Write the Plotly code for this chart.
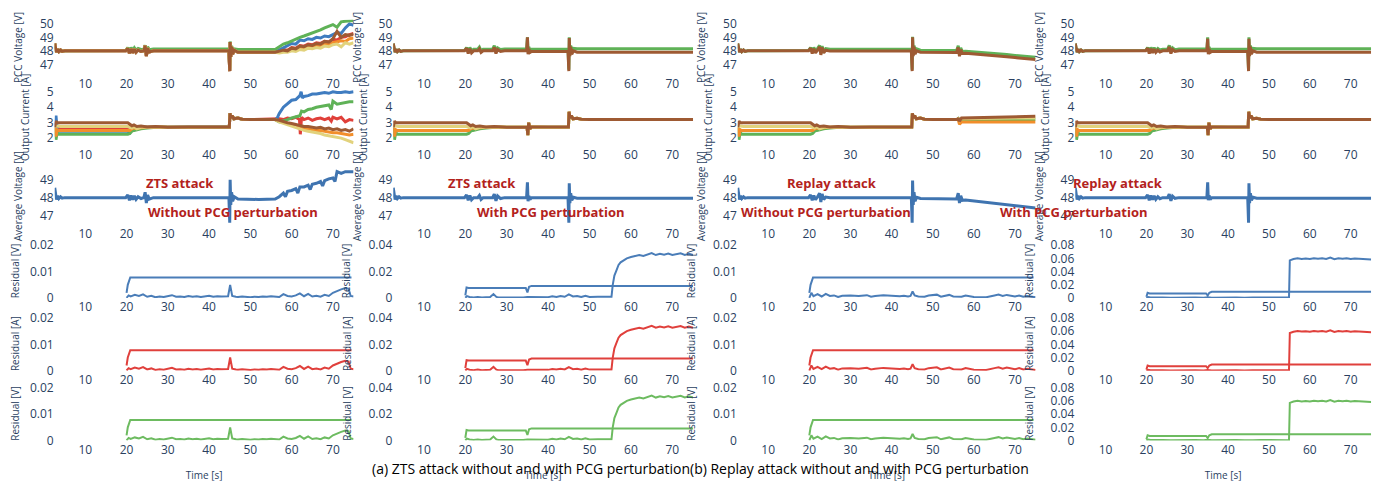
import plotly.graph_objects as go
from plotly.subplots import make_subplots

W, H = 1381, 491

CLR_V = ['#E0403A', '#3F7CC0', '#5FB257', '#F28E2B', '#E2D27C', '#9E5A33']
CLR_AVG = '#3F74B0'
CLR_RES = ['#4A7DB8', '#E0403C', '#6DBB60']

IT3_INIT = [(2.6,2.7),(2.9,1.9),(3.2,2.4),(3.5,2.25),(4.0,2.25),(20.3,2.25),(20.8,2.3),(21.3,2.45),(21.8,2.5),(22.5,2.55),(23.5,2.6),(25.0,2.65),(27.0,2.7),(28.0,2.72)]
IT4_INIT = [(2.6,2.7),(2.9,2.1),(3.2,2.55),(3.5,2.5),(4.0,2.5),(20.3,2.5),(20.8,2.5),(21.3,2.6),(21.8,2.65),(22.5,2.62),(23.5,2.68),(25.0,2.7),(27.0,2.72),(28.0,2.72)]
IT5_INIT = [(2.6,2.7),(2.9,2.8),(3.2,2.78),(3.5,2.75),(4.0,2.75),(20.3,2.75),(20.8,2.7),(21.3,2.65),(21.8,2.75),(22.5,2.6),(23.5,2.7),(25.0,2.72),(27.0,2.72),(28.0,2.72)]
IT6_INIT = [(2.6,2.7),(2.9,3.1),(3.2,3.0),(3.5,3.0),(4.0,3.0),(20.3,3.0),(20.8,2.9),(21.3,2.8),(21.8,2.85),(22.5,2.75),(23.5,2.78),(25.0,2.72),(27.0,2.75),(28.0,2.72)]
IT1_INIT = [(2.6,2.7),(2.9,3.0),(3.2,2.7),(3.5,2.62),(4.0,2.65),(20.3,2.65),(20.8,2.75),(21.3,2.8),(21.8,2.7),(22.5,2.75),(23.5,2.7),(25.0,2.72),(27.0,2.7),(28.0,2.72)]
IT2_INIT = [(2.6,2.7),(2.9,3.45),(3.2,2.5),(3.5,2.45),(4.0,2.45),(20.3,2.45),(20.8,2.35),(21.3,2.6),(21.8,2.7),(22.5,2.68),(23.5,2.72),(25.0,2.7),(27.0,2.72),(28.0,2.72)]
I_MID = [(30,2.7),(35,2.72),(40,2.7),(44.9,2.72),(45.05,3.6),(45.3,3.3),(45.6,3.45),(46.0,3.25),(47.0,3.3),(48.0,3.22),(50.0,3.2),(53.0,3.22),(56.0,3.2)]
I_MID_35 = [(30,2.7),(34.9,2.72),(35.1,2.2),(35.3,3.0),(35.6,2.6),(36.0,2.72),(40,2.7),(44.9,2.72),(45.05,3.7),(45.3,3.3),(45.6,3.45),(46.0,3.25),(47.0,3.28),(48.0,3.22),(50,3.2),(56,3.2),(60,3.22),(65,3.2),(70,3.22),(75,3.2)]

A_V_COMMON = [(2.6,48.55),(2.8,48.2),(3.0,47.9),(3.3,48.12),(3.6,47.95),(4.0,48.06),(4.4,47.96),(5.0,48.0),(19.8,48.0),(20.3,48.18),(20.7,47.82),(21.1,48.14),(21.5,47.86),(21.9,48.12),(22.3,47.9),(22.8,48.06),(23.5,47.95),(24.2,48.0),(24.5,48.38),(24.8,47.62),(25.1,48.2),(25.5,47.92),(26.5,48.0),(44.8,48.0),(45.0,46.5),(45.1,48.65),(45.25,47.55),(45.45,48.3),(45.7,47.75),(46.1,48.05),(47.0,47.9),(56.0,47.9)]
A_V3_COMMON = [(2.6,48.55),(2.8,48.2),(3.0,47.9),(3.3,48.12),(3.6,47.95),(4.0,48.06),(4.4,47.96),(5.0,48.0),(19.8,48.02),(20.3,48.25),(20.7,47.95),(21.1,48.25),(21.5,48.0),(21.9,48.22),(22.3,48.05),(22.8,48.18),(23.5,48.1),(24.2,48.12),(24.5,48.42),(24.8,47.8),(25.1,48.3),(25.5,48.08),(26.5,48.13),(44.8,48.13),(45.0,46.6),(45.1,48.7),(45.25,47.7),(45.45,48.38),(45.7,47.9),(46.1,48.15),(47.0,48.1),(56.0,48.1)]
A_V1_TAIL = [(57,47.95),(58,48.1),(59,48.05),(60,48.25),(61,48.2),(62,48.4),(63,48.35),(64,48.5),(65,48.45),(66,48.6),(67,48.55),(68,48.7),(69,48.65),(70,48.85),(71,48.8),(72,49.0),(73,49.05),(74,49.2),(75,49.3)]
A_V2_TAIL = [(57,48.05),(58,48.25),(59,48.4),(60,48.55),(61,48.5),(62,48.8),(63,48.75),(64,48.9),(65,48.85),(66,49.0),(67,48.95),(68,49.1),(69,49.05),(70,49.2),(71,49.35),(72,49.3),(73,49.7),(74,50.0),(75,49.9)]
A_V3_TAIL = [(57,48.3),(58,48.5),(59,48.6),(60,48.75),(61,48.9),(62,49.0),(63,49.1),(64,49.2),(65,49.35),(66,49.45),(67,49.55),(68,49.7),(69,49.8),(70,49.95),(71,49.75),(72,50.15),(73,50.2),(74,50.25),(75,50.25)]
A_V4_TAIL = [(57,47.9),(58,48.0),(59,47.95),(60,48.1),(61,48.05),(62,48.2),(63,48.15),(64,48.3),(65,48.25),(66,48.4),(67,48.35),(68,48.5),(69,48.45),(70,48.6),(71,48.65),(72,48.75),(73,48.7),(74,48.9),(75,48.95)]
A_V5_TAIL = [(57,47.85),(58,47.9),(59,47.9),(60,48.0),(61,47.95),(62,48.1),(63,48.05),(64,48.2),(65,48.15),(66,48.25),(67,48.2),(68,48.35),(69,48.3),(70,48.45),(71,48.5),(72,48.3),(73,48.6),(74,48.5),(75,48.6)]
A_V6_TAIL = [(57,47.95),(58,48.05),(59,48.0),(60,48.2),(61,48.15),(62,48.35),(63,48.3),(64,48.45),(65,48.4),(66,48.55),(67,48.5),(68,48.7),(69,48.65),(70,48.9),(71,49.45),(72,49.0),(73,49.2),(74,49.15),(75,49.25)]
A_IT1_TAIL = [(57,3.25),(58,3.2),(59,3.3),(60,3.25),(61,3.35),(61.9,3.2),(62.1,2.25),(62.4,3.35),(63,3.2),(64,3.3),(65,3.15),(66,3.25),(67,3.3),(68,3.2),(69,3.3),(69.6,3.1),(70,3.35),(71,3.25),(72,3.35),(73,3.05),(74,3.2),(75,3.15)]
A_IT2_TAIL = [(56.5,3.3),(57,3.6),(58,4.0),(59,4.2),(60,4.45),(61,4.5),(62,4.75),(62.3,5.0),(62.6,4.6),(63,4.7),(64,4.75),(65,4.85),(66,4.85),(67,4.9),(68,4.95),(69,4.9),(70,5.0),(71,4.95),(72,4.95),(73,5.0),(74,4.95),(75,5.0)]
A_IT3_TAIL = [(57,3.05),(58,3.1),(59,3.2),(60,3.3),(61,3.4),(62,3.45),(62.4,3.75),(63,3.7),(64,3.85),(65,3.9),(66,4.0),(67,4.05),(68,4.1),(69,4.15),(69.6,3.85),(70,4.4),(71,4.2),(72,4.25),(73,4.3),(74,4.35),(75,4.35)]
A_IT4_TAIL = [(57,3.1),(58,3.0),(59,2.95),(60,2.85),(61,2.8),(62,2.7),(63,2.65),(64,2.6),(65,2.55),(66,2.5),(67,2.5),(68,2.45),(69,2.4),(70,2.35),(71,2.35),(72,2.3),(73,2.25),(74,2.2),(75,2.25)]
A_IT5_TAIL = [(57,3.05),(58,2.95),(59,2.9),(60,2.8),(61,2.7),(62,2.6),(63,2.5),(64,2.45),(65,2.4),(66,2.35),(67,2.3),(68,2.2),(69,2.15),(70,2.1),(71,2.05),(72,2.0),(73,1.9),(74,1.8),(75,1.7)]
A_IT6_TAIL = [(57,3.15),(58,3.05),(59,3.0),(60,2.95),(61,2.9),(62,2.8),(63,2.75),(64,2.75),(65,2.7),(66,2.65),(67,2.7),(68,2.6),(69,2.65),(70,2.55),(71,2.6),(72,2.5),(73,2.55),(74,2.45),(75,2.6)]
A_VAVG = [(2.6,48.55),(2.8,48.2),(3.0,47.9),(3.3,48.1),(3.6,47.95),(4.0,48.05),(4.4,47.97),(5.0,48.0),(19.8,48.0),(20.3,48.15),(20.7,47.85),(21.1,48.12),(21.5,47.88),(21.9,48.1),(22.3,47.9),(22.8,48.05),(23.5,47.95),(24.2,48.0),(24.5,48.3),(24.8,47.7),(25.1,48.15),(25.5,47.92),(26.5,48.0),(44.8,48.0),(45.0,46.6),(45.1,49.0),(45.25,47.6),(45.45,48.3),(45.7,47.8),(46.1,48.05),(47.0,47.92),(52,47.9),(56.0,47.92),
          (57,48.05),(58,48.25),(58.5,48.05),(59,48.35),(60,48.4),(61,48.5),(61.5,48.25),(62,48.6),(63,48.6),(64,48.7),(64.5,48.45),(65,48.75),(66,48.8),(67,48.9),(67.5,48.65),(68,48.95),(69,49.05),(70,49.1),(70.5,48.9),(71,49.45),(72,49.35),(73,49.45),(74,49.45),(75,49.45)]
A_RES = [(20.0,0.0001),(20.5,0.0010),(21,0.0006),(22,0.0012),(23,0.0008),(24,0.0014),(25,0.0005),(26,0.0009),(27,0.0003),(28,0.0006),(29,0.0004),(30,0.0007),(31,0.0011),(32,0.0005),(33,0.0006),(34,0.0004),(35,0.0008),(36,0.0005),(37,0.0007),(38,0.0004),(39,0.0006),(40,0.0009),(41,0.0005),(42,0.0007),(43,0.0006),(44,0.0005),(44.6,0.0007),(45.1,0.0050),(45.6,0.0008),(46.5,0.0005),(47,0.0004),(48,0.0006),(49,0.0005),(50,0.0003),(51,0.0005),(52,0.0004),(53,0.0006),(54,0.0005),(55,0.0007),(56,0.0006),(57,0.0004),(58,0.0015),(59,0.0008),(60,0.0006),(61,0.0010),(62,0.0018),(63,0.0007),(64,0.0016),(65,0.0006),(66,0.0009),(67,0.0005),(68,0.0012),(69,0.0008),(70,0.0020),(71,0.0028),(72,0.0033),(73,0.0038),(73.8,0.0035),(74.3,0.0008),(75,0.0006)]
A_THR = [(20.0,0.0020),(20.3,0.0050),(20.9,0.0078),(74.5,0.0078)]

B_V_COMMON = [(2.6,48.55),(2.8,48.2),(3.0,47.9),(3.3,48.12),(3.6,47.95),(4.0,48.06),(4.4,47.96),(5.0,48.0),(19.8,48.0),(20.3,48.2),(20.7,47.8),(21.1,48.15),(21.5,47.85),(22.0,48.0),(23.0,48.0),(23.4,48.15),(23.8,47.88),(24.3,48.0),(26.6,48.0),(27.0,48.25),(27.4,47.8),(27.8,48.1),(28.5,47.95),(29.5,48.0),(34.8,48.0),(35.0,49.0),(35.15,47.75),(35.35,48.15),(35.6,47.88),(36.0,47.95),(44.8,47.95),(45.0,46.5),(45.1,48.95),(45.25,47.6),(45.45,48.3),(45.7,47.75),(46.1,48.0),(47.0,47.9),(75.0,47.9)]
B_V3_COMMON = [(2.6,48.55),(2.8,48.2),(3.0,47.9),(3.3,48.12),(3.6,47.95),(4.0,48.06),(4.4,47.96),(5.0,48.0),(19.8,48.02),(20.3,48.25),(20.7,47.95),(21.1,48.25),(21.5,48.0),(22.0,48.12),(23.0,48.12),(23.4,48.28),(23.8,48.02),(24.3,48.12),(26.6,48.12),(27.0,48.38),(27.4,47.95),(27.8,48.22),(28.5,48.1),(29.5,48.13),(34.8,48.13),(35.0,49.0),(35.15,47.9),(35.35,48.28),(35.6,48.05),(36.0,48.12),(44.8,48.12),(45.0,46.6),(45.1,49.0),(45.25,47.7),(45.45,48.4),(45.7,47.9),(46.1,48.18),(47.0,48.15),(75.0,48.15)]
B_VAVG = [(2.6,48.55),(2.8,48.2),(3.0,47.9),(3.3,48.1),(3.6,47.95),(4.0,48.05),(4.4,47.97),(5.0,48.0),(19.8,48.0),(20.3,48.15),(20.7,47.85),(21.1,48.12),(21.5,47.88),(22.0,48.0),(23.0,48.0),(23.4,48.12),(23.8,47.9),(24.3,48.0),(26.6,48.0),(27.0,48.2),(27.4,47.82),(27.8,48.1),(28.5,47.95),(29.5,48.0),(34.8,48.0),(35.0,48.85),(35.15,47.8),(35.35,48.1),(35.6,47.9),(36.0,48.0),(44.8,48.0),(45.0,46.6),(45.1,48.8),(45.25,47.7),(45.45,48.25),(45.7,47.85),(46.1,48.02),(47.0,47.97),(75.0,47.97)]
B_RES = [(20.0,0.0002),(20.4,0.0015),(21,0.0008),(22,0.0005),(23,0.0009),(24,0.0004),(25,0.0006),(26,0.0008),(26.8,0.0030),(27.5,0.0009),(28,0.0005),(30,0.0004),(32,0.0005),(34,0.0004),(35,0.0008),(37,0.0009),(39,0.0011),(40,0.0007),(41,0.0014),(42,0.0009),(43,0.0016),(44,0.0010),(45,0.0028),(46,0.0012),(47,0.0016),(48,0.0008),(49,0.0017),(50,0.0009),(52,0.0010),(54,0.0009),(55,0.0005),(55.3,0.0010),(55.6,0.0100),(56.0,0.0170),(56.5,0.0210),(57,0.0250),(57.5,0.0270),(58,0.0280),(59,0.0300),(60,0.0310),(61,0.0315),(62,0.0325),(63,0.0318),(64,0.0330),(65,0.0340),(66,0.0325),(67,0.0335),(68,0.0328),(69,0.0336),(70,0.0325),(71,0.0332),(72,0.0338),(73,0.0326),(74,0.0334),(75,0.0325)]
B_THR = [(20.0,0.0020),(20.3,0.0080),(20.8,0.0077),(34.6,0.0077),(35.0,0.0042),(35.4,0.0085),(36.0,0.0092),(75.0,0.0092)]

C_V_COMMON = [(2.6,48.55),(2.8,48.2),(3.0,47.9),(3.3,48.12),(3.6,47.95),(4.0,48.06),(4.4,47.96),(5.0,48.0),(19.8,48.0),(20.3,48.2),(20.7,47.8),(21.1,48.15),(21.5,47.85),(22.0,48.05),(22.5,48.3),(22.8,47.7),(23.1,48.25),(23.5,47.85),(24.0,48.05),(25.0,47.98),(44.8,47.98),(45.0,46.5),(45.1,49.0),(45.25,47.6),(45.45,48.3),(45.7,47.75),(46.1,48.0),(47.0,47.9),(55.8,47.88),(56.2,48.25),(56.5,47.6),(56.8,48.1),(57.2,47.8),(58,47.82),(60,47.78),(62,47.72),(65,47.65),(68,47.57),(70,47.5),(72,47.45),(75,47.35)]
C_V3_COMMON = [(2.6,48.55),(2.8,48.2),(3.0,47.9),(3.3,48.12),(3.6,47.95),(4.0,48.06),(4.4,47.96),(5.0,48.0),(19.8,48.02),(20.3,48.25),(20.7,47.95),(21.1,48.25),(21.5,48.0),(22.0,48.18),(22.5,48.4),(22.8,47.85),(23.1,48.35),(23.5,48.0),(24.0,48.17),(25.0,48.12),(44.8,48.12),(45.0,46.6),(45.1,49.05),(45.25,47.7),(45.45,48.4),(45.7,47.9),(46.1,48.15),(47.0,48.05),(55.8,48.03),(56.2,48.38),(56.5,47.75),(56.8,48.22),(57.2,47.95),(58,47.97),(60,47.93),(62,47.88),(65,47.8),(68,47.72),(70,47.66),(72,47.6),(75,47.52)]
C_IT3_TAIL = [(56.2,3.25),(56.5,3.1),(57,3.2),(60,3.2),(65,3.2),(70,3.2),(75,3.2)]
C_IT4_TAIL = [(56.2,3.2),(56.5,2.9),(57,3.05),(60,3.05),(65,3.05),(70,3.05),(75,3.05)]
C_IT5_TAIL = [(56.2,3.25),(56.5,3.15),(57,3.25),(60,3.27),(65,3.28),(70,3.3),(75,3.3)]
C_IT6_TAIL = [(56.2,3.3),(56.5,3.1),(57,3.3),(60,3.32),(65,3.35),(70,3.38),(75,3.42)]
C_VAVG = [(2.6,48.55),(2.8,48.2),(3.0,47.9),(3.3,48.1),(3.6,47.95),(4.0,48.05),(4.4,47.97),(5.0,48.0),(19.8,48.0),(20.3,48.15),(20.7,47.85),(21.1,48.12),(21.5,47.88),(22.0,48.05),(22.5,48.25),(22.8,47.75),(23.1,48.2),(23.5,47.9),(24.0,48.03),(25.0,48.0),(44.8,48.0),(45.0,46.6),(45.1,48.95),(45.25,47.6),(45.45,48.3),(45.7,47.8),(46.1,48.02),(47.0,47.95),(55.8,47.93),(56.2,48.25),(56.5,47.7),(56.8,48.1),(57.2,47.85),(58,47.87),(60,47.82),(62,47.77),(65,47.7),(68,47.62),(70,47.55),(72,47.5),(75,47.42)]
C_RES = [(20.0,0.0001),(20.5,0.0020),(21,0.0007),(22,0.0015),(23,0.0006),(24,0.0016),(25,0.0008),(26,0.0010),(27,0.0004),(28,0.0009),(30,0.0010),(32,0.0008),(34,0.0011),(35,0.0005),(36,0.0008),(38,0.0011),(40,0.0009),(42,0.0007),(43,0.0009),(44,0.0006),(44.6,0.0008),(45.1,0.0025),(45.6,0.0010),(46.5,0.0006),(48,0.0005),(49,0.0010),(51,0.0013),(52,0.0005),(54,0.0012),(55,0.0006),(57,0.0005),(58,0.0010),(60,0.0004),(62,0.0005),(63,0.0003),(65,0.0010),(66,0.0013),(67,0.0008),(68,0.0012),(70,0.0006),(71,0.0010),(72,0.0005),(73,0.0008),(75,0.0003)]
C_THR = [(20.0,0.0020),(20.3,0.0050),(20.9,0.0078),(74.5,0.0078)]

D_V_COMMON = [(2.6,48.55),(2.8,48.2),(3.0,47.9),(3.3,48.12),(3.6,47.95),(4.0,48.06),(4.4,47.96),(5.0,48.0),(19.8,48.0),(20.3,48.2),(20.7,47.8),(21.1,48.15),(21.5,47.85),(21.9,48.12),(22.3,47.88),(22.8,48.05),(23.3,47.92),(24.0,48.0),(25.2,48.0),(25.6,48.3),(26.0,47.8),(26.4,48.1),(27.0,47.95),(28.0,48.0),(34.8,48.0),(35.0,48.9),(35.15,47.75),(35.35,48.15),(35.6,47.88),(36.0,47.95),(44.8,47.95),(45.0,46.5),(45.1,48.9),(45.25,47.6),(45.45,48.3),(45.7,47.75),(46.1,48.0),(47.0,47.9),(75.0,47.9)]
D_V3_COMMON = [(2.6,48.55),(2.8,48.2),(3.0,47.9),(3.3,48.12),(3.6,47.95),(4.0,48.06),(4.4,47.96),(5.0,48.0),(19.8,48.02),(20.3,48.25),(20.7,47.95),(21.1,48.25),(21.5,48.0),(21.9,48.24),(22.3,48.02),(22.8,48.18),(23.3,48.06),(24.0,48.12),(25.2,48.12),(25.6,48.4),(26.0,47.95),(26.4,48.22),(27.0,48.08),(28.0,48.13),(34.8,48.13),(35.0,49.0),(35.15,47.9),(35.35,48.28),(35.6,48.05),(36.0,48.12),(44.8,48.12),(45.0,46.6),(45.1,49.0),(45.25,47.7),(45.45,48.4),(45.7,47.9),(46.1,48.18),(47.0,48.15),(75.0,48.15)]
D_VAVG = [(2.6,48.55),(2.8,48.2),(3.0,47.9),(3.3,48.1),(3.6,47.95),(4.0,48.05),(4.4,47.97),(5.0,48.0),(19.8,48.0),(20.3,48.15),(20.7,47.85),(21.1,48.12),(21.5,47.88),(21.9,48.1),(22.3,47.9),(22.8,48.05),(23.3,47.94),(24.0,48.0),(25.2,48.0),(25.6,48.2),(26.0,47.82),(26.4,48.08),(27.0,47.96),(28.0,48.0),(34.8,48.0),(35.0,48.85),(35.15,47.85),(35.35,48.12),(35.6,47.9),(36.0,48.0),(44.8,48.0),(45.0,46.6),(45.1,48.8),(45.25,47.7),(45.45,48.25),(45.7,47.85),(46.1,48.02),(47.0,47.97),(75.0,47.97)]
D_RES = [(20.0,0.0002),(20.4,0.0015),(21,0.0008),(22,0.0005),(24,0.0010),(26,0.0006),(28,0.0009),(30,0.0005),(32,0.0008),(34,0.0006),(35,0.0012),(36,0.0006),(38,0.0009),(40,0.0005),(42,0.0008),(44,0.0006),(45,0.0012),(46,0.0007),(48,0.0010),(50,0.0006),(52,0.0009),(54,0.0007),(54.9,0.0008),(55.1,0.0570),(56,0.0590),(57,0.0600),(58,0.0592),(59,0.0598),(60,0.0590),(61,0.0602),(62,0.0594),(63,0.0600),(64,0.0590),(65,0.0612),(66,0.0586),(67,0.0600),(68,0.0594),(69,0.0600),(70,0.0590),(71,0.0598),(72,0.0594),(73,0.0590),(74,0.0588),(75,0.0582)]
D_THR = [(20.0,0.0020),(20.3,0.0080),(20.8,0.0070),(34.6,0.0070),(35.0,0.0040),(35.4,0.0080),(36.0,0.0094),(75.0,0.0094)]

X_TICKS = [10, 20, 30, 40, 50, 60, 70]
Y_TICKS_TOP = [[47, 48, 49, 50], [2, 3, 4, 5], [47, 48, 49]]
RES_TICKS = [[0, 0.01, 0.02], [0, 0.02, 0.04], [0, 0.01, 0.02], [0, 0.02, 0.04, 0.06, 0.08]]
RES_TOP = [0.0205, 0.041, 0.0205, 0.082]
Y_RANGES = [[46.2, 50.3], [1.5, 5.2], [46.45, 49.7]]
ROW_TITLES = ['PCC Voltage [V]', 'Output Current [A]', 'Average Voltage [V]', 'Residual [V]', 'Residual [A]', 'Residual [V]']
ATTACK_TXT = ['ZTS attack', 'ZTS attack', 'Replay attack', 'Replay attack']
PCG_TXT = ['Without PCG perturbation', 'With PCG perturbation', 'Without PCG perturbation', 'With PCG perturbation']
CAPTIONS = ['(a) ZTS attack without and with PCG perturbation', '(b) Replay attack without and with PCG perturbation']

panels = [
    dict(V=[(A_V_COMMON + A_V1_TAIL, 0), (A_V_COMMON + A_V2_TAIL, 1), (A_V3_COMMON + A_V3_TAIL, 2),
            (A_V_COMMON + A_V4_TAIL, 3), (A_V_COMMON + A_V5_TAIL, 4), (A_V_COMMON + A_V6_TAIL, 5)],
         I=[(IT1_INIT + I_MID + A_IT1_TAIL, 0), (IT2_INIT + I_MID + A_IT2_TAIL, 1), (IT3_INIT + I_MID + A_IT3_TAIL, 2),
            (IT4_INIT + I_MID + A_IT4_TAIL, 3), (IT5_INIT + I_MID + A_IT5_TAIL, 4), (IT6_INIT + I_MID + A_IT6_TAIL, 5)],
         AVG=A_VAVG, RES=A_RES, THR=A_THR),
    dict(V=[(B_V3_COMMON, 2), (B_V_COMMON, 5)],
         I=[(IT3_INIT + I_MID_35, 2), (IT4_INIT + I_MID_35, 3), (IT5_INIT + I_MID_35, 4), (IT6_INIT + I_MID_35, 5)],
         AVG=B_VAVG, RES=B_RES, THR=B_THR),
    dict(V=[(C_V3_COMMON, 2), (C_V_COMMON, 5)],
         I=[(IT3_INIT + I_MID + C_IT3_TAIL, 2), (IT4_INIT + I_MID + C_IT4_TAIL, 3),
            (IT5_INIT + I_MID + C_IT5_TAIL, 4), (IT6_INIT + I_MID + C_IT6_TAIL, 5)],
         AVG=C_VAVG, RES=C_RES, THR=C_THR),
    dict(V=[(D_V3_COMMON, 2), (D_V_COMMON, 5)],
         I=[(IT3_INIT + I_MID_35, 2), (IT4_INIT + I_MID_35, 3), (IT5_INIT + I_MID_35, 4), (IT6_INIT + I_MID_35, 5)],
         AVG=D_VAVG, RES=D_RES, THR=D_THR),
]

COL_PX = [(37, 338), (378, 680), (725, 1025), (1065, 1363)]
ROW_PX = [(5, 62), (76, 135), (157, 217), (236, 292), (311, 367), (383, 439)]
ATT_X = [127, 467, 820, 1155]
PCG_X = [129, 460, 814, 1140]


def X(px):
    return px / W


def Y(py):
    return 1 - py / H


def xy(pairs):
    return [p[0] for p in pairs], [p[1] for p in pairs]


fig = make_subplots(rows=6, cols=4)
for c in range(4):
    d = panels[c]
    for pairs, k in d['V']:
        x, y = xy(pairs)
        fig.add_trace(go.Scatter(x=x, y=y, mode='lines', line=dict(color=CLR_V[k], width=3), showlegend=False), row=1, col=c + 1)
    for pairs, k in d['I']:
        x, y = xy(pairs)
        fig.add_trace(go.Scatter(x=x, y=y, mode='lines', line=dict(color=CLR_V[k], width=3), showlegend=False), row=2, col=c + 1)
    x, y = xy(d['AVG'])
    fig.add_trace(go.Scatter(x=x, y=y, mode='lines', line=dict(color=CLR_AVG, width=3), showlegend=False), row=3, col=c + 1)
    for j in range(3):
        x1, y1 = xy(d['RES'])
        x2, y2 = xy(d['THR'])
        fig.add_trace(go.Scatter(x=x1 + [None] + x2, y=y1 + [None] + y2, mode='lines',
                                 line=dict(color=CLR_RES[j], width=2), showlegend=False), row=4 + j, col=c + 1)

for r in range(6):
    for c in range(4):
        idx = r * 4 + c + 1
        xa = 'xaxis' if idx == 1 else 'xaxis%d' % idx
        ya = 'yaxis' if idx == 1 else 'yaxis%d' % idx
        l, rr = COL_PX[c]
        t, b = ROW_PX[r]
        fig.layout[xa].update(domain=[X(l), X(rr)], range=[2.6, 75], tickvals=X_TICKS)
        tv = Y_TICKS_TOP[r] if r < 3 else RES_TICKS[c]
        yr = Y_RANGES[r] if r < 3 else [0, RES_TOP[c]]
        fig.layout[ya].update(domain=[Y(b), Y(t)], range=yr, tickvals=tv,
                              title=dict(text=ROW_TITLES[r], font=dict(size=10)))
        if r == 5:
            fig.layout[xa].update(title=dict(text='Time [s]', font=dict(size=10)))

annos = []
for c in range(4):
    annos.append(dict(xref='paper', yref='paper', x=X(ATT_X[c]), y=Y(173), text='<b>%s</b>' % ATTACK_TXT[c],
                      showarrow=False, font=dict(size=13, color='#B3221C')))
    annos.append(dict(xref='paper', yref='paper', x=X(PCG_X[c]), y=Y(203), text='<b>%s</b>' % PCG_TXT[c],
                      showarrow=False, font=dict(size=13, color='#B3221C')))
annos.append(dict(xref='paper', yref='paper', x=X(355), y=Y(480), text=CAPTIONS[0], showarrow=False, font=dict(size=14, color='#000')))
annos.append(dict(xref='paper', yref='paper', x=X(1020), y=Y(480), text=CAPTIONS[1], showarrow=False, font=dict(size=14, color='#000')))

fig.update_layout(width=W, height=H, margin=dict(l=0, r=0, t=0, b=0), plot_bgcolor='white',
                  showlegend=False, annotations=annos)
fig.write_html('out.html')
